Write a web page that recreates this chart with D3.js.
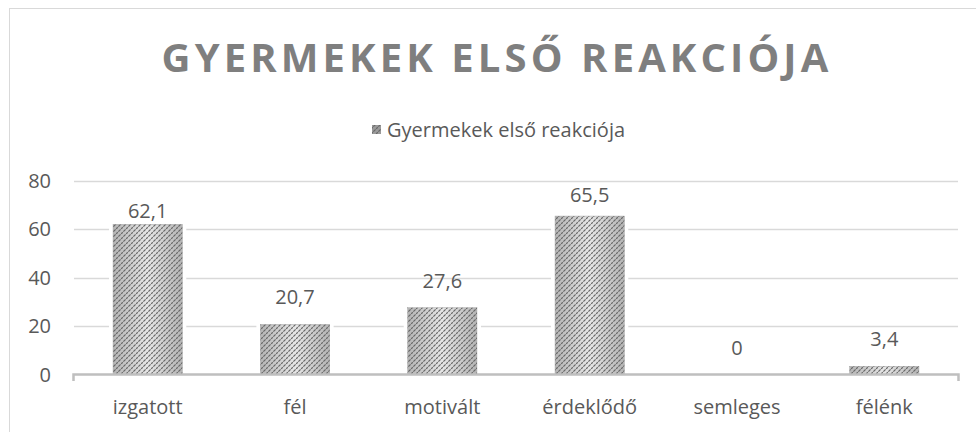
<!DOCTYPE html>
<html>
<head>
<meta charset="utf-8">
<script src="https://cdn.jsdelivr.net/npm/d3@7"></script>
<style>
  body { margin: 0; background: #fff; }
  svg text { font-family: "Open Sans", "Noto Sans", sans-serif; }
</style>
</head>
<body>
<div id="chart"></div>
<script>
const categories = ["izgatott", "fél", "motivált", "érdeklődő", "semleges", "félénk"];
const values = [62.1, 20.7, 27.6, 65.5, 0, 3.4];
const yTicks = [0, 20, 40, 60, 80];
const seriesName = "Gyermekek első reakciója";
const chartTitle = "GYERMEKEK ELSŐ REAKCIÓJA";

const width = 976, height = 432;
const textColor = "#595959";
const fontSize = 20;
// the original moved a couple of data labels down by hand
const labelNudge = [14, 0, 0, 6, 0, 0];

const svg = d3.select("#chart")
  .append("svg")
  .attr("width", width)
  .attr("height", height);

// hatch pattern for the bars
const defs = svg.append("defs");
const grad = defs.append("linearGradient")
  .attr("id", "barShade")
  .attr("x1", 0).attr("x2", 1).attr("y1", 0).attr("y2", 0);
grad.append("stop").attr("offset", "0%").attr("stop-color", "#b4b4b4");
grad.append("stop").attr("offset", "50%").attr("stop-color", "#e6e6e6");
grad.append("stop").attr("offset", "100%").attr("stop-color", "#b4b4b4");

const pat = defs.append("pattern")
  .attr("id", "hatch")
  .attr("patternUnits", "userSpaceOnUse")
  .attr("width", 5).attr("height", 5);
pat.append("path")
  .attr("d", "M-1,6 L6,-1 M-1,1 L1,-1 M4,6 L6,4")
  .attr("stroke", "#666")
  .attr("stroke-width", 1.2)
  .attr("stroke-dasharray", "2.2,0.9");

// chart border
svg.append("rect")
  .attr("x", 9.5).attr("y", 8.5)
  .attr("width", 1000).attr("height", 500)
  .attr("fill", "none")
  .attr("stroke", "#d9d9d9");

const x = d3.scaleBand()
  .domain(categories)
  .range([74, 958])
  .paddingInner(0.53)
  .paddingOuter(0.265);

const y = d3.scaleLinear()
  .domain([0, 80])
  .range([374.5, 181]);

// gridlines
svg.append("g")
  .selectAll("line")
  .data(yTicks.filter(d => d > 0))
  .join("line")
  .attr("x1", 74).attr("x2", 958)
  .attr("y1", d => Math.round(y(d)) + 0.5)
  .attr("y2", d => Math.round(y(d)) + 0.5)
  .attr("stroke", "#d9d9d9")
  .attr("stroke-width", 1.3);

// y tick labels
svg.append("g")
  .attr("font-size", fontSize)
  .attr("fill", textColor)
  .attr("text-anchor", "end")
  .selectAll("text")
  .data(yTicks)
  .join("text")
  .attr("x", 51)
  .attr("y", d => y(d))
  .attr("dy", "0.35em")
  .text(d => d);

// bars: white gap, then shade, then hatch
const bars = svg.append("g");
bars.selectAll("rect.gap")
  .data(values)
  .join("rect")
  .attr("class", "gap")
  .attr("x", (d, i) => x(categories[i]) - 4)
  .attr("width", x.bandwidth() + 8)
  .attr("y", d => y(d))
  .attr("height", d => y(0) - y(d))
  .attr("fill", "#fff");
bars.selectAll("rect.shade")
  .data(values)
  .join("rect")
  .attr("class", "shade")
  .attr("x", (d, i) => x(categories[i]))
  .attr("width", x.bandwidth())
  .attr("y", d => y(d))
  .attr("height", d => y(0) - y(d))
  .attr("fill", "url(#barShade)")
  .attr("stroke", "#a6a6a6")
  .attr("stroke-width", 0.5);
bars.selectAll("rect.hatch")
  .data(values)
  .join("rect")
  .attr("class", "hatch")
  .attr("x", (d, i) => x(categories[i]))
  .attr("width", x.bandwidth())
  .attr("y", d => y(d))
  .attr("height", d => y(0) - y(d))
  .attr("fill", "url(#hatch)");

// x axis line with end ticks
svg.append("path")
  .attr("d", `M73.5,381 V374.5 H958.5 V381`)
  .attr("fill", "none")
  .attr("stroke", "#bfbfbf")
  .attr("stroke-width", 2.5);

// category labels
svg.append("g")
  .attr("font-size", fontSize)
  .attr("fill", textColor)
  .attr("text-anchor", "middle")
  .selectAll("text")
  .data(categories)
  .join("text")
  .attr("x", d => x(d) + x.bandwidth() / 2)
  .attr("y", 407)
  .attr("dy", "0.35em")
  .text(d => d);

// value labels
svg.append("g")
  .attr("font-size", fontSize)
  .attr("fill", textColor)
  .attr("text-anchor", "middle")
  .selectAll("text")
  .data(values)
  .join("text")
  .attr("x", (d, i) => x(categories[i]) + x.bandwidth() / 2)
  .attr("y", (d, i) => y(d) - 27 + labelNudge[i])
  .attr("dy", "0.35em")
  .text(d => String(d).replace(".", ","));

// title
svg.append("text")
  .attr("x", 497)
  .attr("y", 58)
  .attr("dy", "0.35em")
  .attr("text-anchor", "middle")
  .attr("font-size", 40)
  .attr("font-weight", "bold")
  .attr("letter-spacing", 4.1)
  .attr("fill", "#7f7f7f")
  .text(chartTitle);

// legend
const legend = svg.append("g");
legend.append("rect")
  .attr("x", 372).attr("y", 125)
  .attr("width", 9).attr("height", 9)
  .attr("fill", "#9a9a9a");
legend.append("rect")
  .attr("x", 372).attr("y", 125)
  .attr("width", 9).attr("height", 9)
  .attr("fill", "url(#hatch)");
legend.append("text")
  .attr("x", 387)
  .attr("y", 130)
  .attr("dy", "0.35em")
  .attr("font-size", fontSize)
  .attr("fill", textColor)
  .text(seriesName);
</script>
</body>
</html>
